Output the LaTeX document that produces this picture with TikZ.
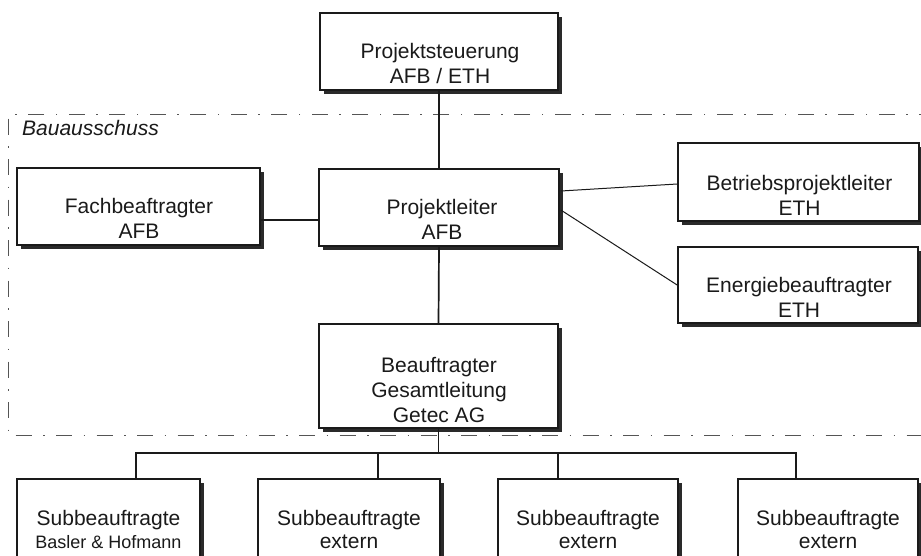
\documentclass[tikz,border=0pt]{standalone}
\usepackage{fontspec}
\setmainfont{Liberation Sans}
\usetikzlibrary{shadows,calc}
\definecolor{ink}{HTML}{1A1A1A}
\definecolor{shade}{HTML}{2A2A2A}
\definecolor{framec}{HTML}{555555}
\begin{document}
\begin{tikzpicture}[x=1pt,y=-1pt,
  orgbox/.style={draw=ink, line width=1.7pt, fill=white, inner sep=0pt,
    drop shadow={shadow xshift=4pt, shadow yshift=-4pt, fill=shade, opacity=1}},
  lbl/.style={align=center, inner sep=0pt, text=ink, font=\fontsize{21}{25}\selectfont},
  sublbl/.style={align=center, inner sep=0pt, text=ink, font=\fontsize{21}{23}\selectfont},
  conn/.style={draw=ink, line width=1.7pt},
  thinconn/.style={draw=ink, line width=1pt},
  frameline/.style={draw=framec, line width=1pt, dash pattern=on 16pt off 11.5pt on 1.5pt off 11.5pt}]
\useasboundingbox (0,0) rectangle (921,555);
\clip (0,0) rectangle (921,555);
\fill[white] (0,0) rectangle (921,555);

% frame of Bauausschuss
\coordinate (fr1) at (935,114);
\coordinate (fr2) at (8,114);
\coordinate (fr3) at (8,435);
\coordinate (fr4) at (935,435);
\draw[frameline] (fr1) -- (fr2) -- (fr3) -- (fr4);
\node[anchor=base west, inner sep=0pt, text=ink, font=\fontsize{21}{25}\selectfont\itshape] (bau) at (22,135) {Bauausschuss};

% boxes
\node[orgbox, minimum width=238pt, minimum height=77pt] (top) at (439,51.5) {};
\node[orgbox, minimum width=243pt, minimum height=77pt] (fach) at (138.5,206.5) {};
\node[orgbox, minimum width=240pt, minimum height=77pt] (proj) at (439,207.5) {};
\node[orgbox, minimum width=241pt, minimum height=78pt] (betr) at (798.5,182) {};
\node[orgbox, minimum width=240pt, minimum height=76pt] (energ) at (798,285) {};
\node[orgbox, minimum width=239pt, minimum height=104pt] (beauf) at (438.5,376) {};
\node[orgbox, minimum width=183pt, minimum height=101pt] (sub1) at (108.5,529.5) {};
\node[orgbox, minimum width=182pt, minimum height=101pt] (sub2) at (349,529.5) {};
\node[orgbox, minimum width=180pt, minimum height=101pt] (sub3) at (588,529.5) {};
\node[orgbox, minimum width=180pt, minimum height=101pt] (sub4) at (828,529.5) {};

% connectors
\draw[conn] (top.south) -- (proj.north);
\draw[conn] (proj.south) -- (beauf.north);
\coordinate (fa) at ($(fach.east)+(0,13.5)$);
\draw[conn] (fa) -- (fa -| proj.west);
\draw[thinconn] ($(proj.east)+(1,-16.5)$) -- ($(betr.west)+(0,2)$);
\draw[thinconn] ($(proj.east)+(1,2.5)$) -- (energ.west);
\coordinate (bus) at ($(beauf.south)+(0,24)$);
\draw[conn] (beauf.south) -- (bus);
\coordinate (d1) at ($(sub1.north west)+(120,0)$);
\coordinate (d2) at ($(sub2.north west)+(121,0)$);
\coordinate (d3) at ($(sub3.north west)+(61,0)$);
\coordinate (d4) at ($(sub4.north west)+(59,0)$);
\draw[conn] (d1) -- (d1 |- bus) -- (d4 |- bus) -- (d4);
\draw[conn] (d2) -- (d2 |- bus);
\draw[conn] (d3) -- (d3 |- bus);

% labels
\node[lbl] (topT) at (440,63.5) {Projektsteuerung\\AFB / ETH};
\node[lbl] (fachT) at (139,218) {Fachbeaftragter\\AFB};
\node[lbl] (projT) at (442,219) {Projektleiter\\AFB};
\node[lbl] (betrT) at (799.5,195.5) {Betriebsprojektleiter\\ETH};
\node[lbl] (energT) at (799,297.5) {Energiebeauftragter\\ETH};
\node[lbl] (beaufT) at (439,389.5) {Beauftragter\\Gesamtleitung\\Getec AG};
\node[sublbl] (sub1T) at (108.5,529) {Subbeauftragte\\{\fontsize{18}{23}\selectfont Basler \& Hofmann}};
\node[sublbl] (sub2T) at (349,529) {Subbeauftragte\\extern};
\node[sublbl] (sub3T) at (588,529) {Subbeauftragte\\extern};
\node[sublbl] (sub4T) at (828,529) {Subbeauftragte\\extern};
\end{tikzpicture}
\end{document}
